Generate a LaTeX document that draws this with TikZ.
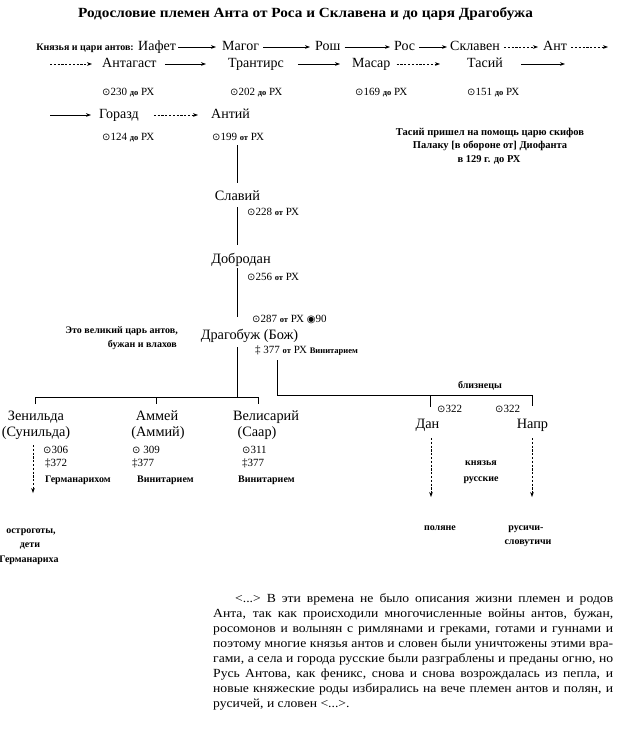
\documentclass[tikz,border=0pt]{standalone}
\usepackage{fontspec}
\setmainfont{Liberation Serif}
\newfontfamily\symfnt{DejaVu Sans}
\newfontfamily\titlefnt{Liberation Serif}[FakeStretch=1.09]
\newfontfamily\parafnt{Liberation Serif}[FakeStretch=1.1]
\usetikzlibrary{arrows.meta}
\newcommand\bsym{{\symfnt\fontsize{10}{10}\selectfont ⊙}}
\newcommand\fsym{{\symfnt\fontsize{10}{10}\selectfont ◉}}
\newcommand\tsm[1]{{\fontsize{8.5}{9}\selectfont\bfseries #1}}
\begin{document}
\begin{tikzpicture}[x=1pt,y=-1pt,
  every node/.style={inner sep=0pt},
  nm/.style={font=\fontsize{14}{16}\selectfont, text height=6pt, text depth=0pt, anchor=base west},
  tn/.style={font=\fontsize{14.3}{16}\selectfont, anchor=base},
  sm/.style={font=\fontsize{10}{11}\selectfont\bfseries, anchor=base},
  nt/.style={font=\fontsize{10.5}{12}\selectfont\bfseries, anchor=base},
  dt/.style={font=\fontsize{11}{13}\selectfont, anchor=base west},
  arr/.style={-{Stealth[length=5pt,width=3.6pt]}, line width=0.6pt},
  darr/.style={arr, dash pattern=on 2.2pt off 1.6pt},
  ln/.style={line width=0.6pt}]
\useasboundingbox (0,0) rectangle (621,748);

% title
\node[font=\fontsize{14}{16}\titlefnt\bfseries, anchor=base] (title) at (305.5,17)
  {Родословие племен Анта от Роса и Склавена и до царя Драгобужа};

% row 1
\node[sm, anchor=base east] (lead) at (134,50) {Князья и цари антов:};
\node[nm] (iafet) at (138,50) {Иафет};
\node[nm] (magog) at (222,50) {Магог};
\node[nm] (rosh) at (315,50) {Рош};
\node[nm] (ros) at (394,50) {Рос};
\node[nm] (sklaven) at (450,50) {Склавен};
\node[nm] (ant) at (543,50) {Ант};
\coordinate (e1) at (608,47);
\draw[arr, shorten <=2pt, shorten >=6pt] (iafet) -- (magog);
\draw[arr, shorten <=4pt, shorten >=5pt] (magog) -- (rosh);
\draw[arr, shorten <=4pt, shorten >=4pt] (rosh) -- (ros);
\draw[arr, shorten <=4pt, shorten >=3pt] (ros) -- (sklaven);
\draw[darr, shorten <=4pt, shorten >=5pt] (sklaven) -- (ant);
\draw[darr, shorten <=4pt] (ant) -- (e1);

% row 2
\coordinate (s2) at (50,64);
\node[nm] (antagast) at (102,67) {Антагаст};
\node[nm] (trantirs) at (228,67) {Трантирс};
\node[nm] (masar) at (352,67) {Масар};
\node[nm] (tasiy) at (467,67) {Тасий};
\coordinate (e2) at (565,64);
\draw[darr, shorten >=10pt] (s2) -- (antagast);
\draw[arr, shorten <=8pt, shorten >=22pt] (antagast) -- (trantirs);
\draw[arr, shorten <=14pt, shorten >=12pt] (trantirs) -- (masar);
\draw[darr, shorten <=6pt, shorten >=27pt] (masar) -- (tasiy);
\draw[arr, shorten <=18pt] (tasiy) -- (e2);

% row 3 dates
\node[dt] (d230) at (102,95) {\bsym230 \tsm{до} РХ};
\node[dt] (d202) at (230,95) {\bsym202 \tsm{до} РХ};
\node[dt] (d169) at (355,95) {\bsym169 \tsm{до} РХ};
\node[dt] (d151) at (467,95) {\bsym151 \tsm{до} РХ};

% row 4
\coordinate (s4) at (50,115);
\node[nm] (gorazd) at (99,118) {Горазд};
\node[nm] (antiy) at (211,118) {Антий};
\draw[arr, shorten >=8pt] (s4) -- (gorazd);
\draw[darr, shorten <=15pt, shorten >=13pt] (gorazd) -- (antiy);
\node[dt] (d124) at (102,140) {\bsym124 \tsm{до} РХ};
\node[dt] (d199) at (212,140) {\bsym199 \tsm{от} РХ};

% note
\node[nt] (note1) at (490,135) {Тасий пришел на помощь царю скифов};
\node[nt] (note2) at (490,148) {Палаку [в обороне от] Диофанта};
\node[nt] (note3) at (489,162) {в 129 г. до РХ};

% spine
\coordinate (t1) at (237,145); \coordinate (t2) at (237,183);
\coordinate (t3) at (237,207); \coordinate (t4) at (237,245);
\coordinate (t5) at (237,268); \coordinate (t6) at (237,317);
\coordinate (t7) at (237,347); \coordinate (t8) at (237,397);
\draw[ln] (t1) -- (t2);
\draw[ln] (t3) -- (t4);
\draw[ln] (t5) -- (t6);
\draw[ln] (t7) -- (t8);

\node[tn] (slaviy) at (237.5,200) {Славий};
\node[dt] (d228) at (247,215) {\bsym228 \tsm{от} РХ};
\node[tn] (dobrodan) at (241,263) {Добродан};
\node[dt] (d256) at (247,280) {\bsym256 \tsm{от} РХ};
\node[dt] (d287) at (252,322) {\bsym287 \tsm{от} РХ \fsym90};
\node[tn] (dragobuzh) at (249.5,339) {Драгобуж (Бож)};
\node[dt] (d377) at (255,353) {‡ 377 \tsm{от} РХ \tsm{Винитарием}};
\node[sm, anchor=base east] (great1) at (178,333) {Это великий царь антов,};
\node[sm, anchor=base east] (great2) at (177,347) {бужан и влахов};

% left bar
\coordinate (b1) at (35,404); \coordinate (b1t) at (35,397);
\coordinate (b2) at (156,404); \coordinate (b2t) at (156,397);
\coordinate (b3) at (258,404); \coordinate (b3t) at (258,397);
\draw[ln] (b1) -- (b1t) -- (b3t) -- (b3);
\draw[ln] (b2t) -- (b2);

% right bar
\coordinate (r0) at (277,360); \coordinate (r0b) at (277,395);
\coordinate (r1t) at (430,395); \coordinate (r1) at (430,407);
\coordinate (r2t) at (532,395); \coordinate (r2) at (532,406);
\draw[ln] (r0) -- (r0b) -- (r2t) -- (r2);
\draw[ln] (r1t) -- (r1);

% children
\node[tn] (zen1) at (36,420) {Зенильда};
\node[tn] (zen2) at (36,436) {(Сунильда)};
\node[dt] (zb) at (43,453) {\bsym306};
\node[dt] (zd) at (45,466) {‡372};
\node[sm, anchor=base west] (zk) at (45,482) {Германарихом};
\node[tn] (amm1) at (157,420) {Аммей};
\node[tn] (amm2) at (158,436) {(Аммий)};
\node[dt] (ab) at (132,453) {\bsym\ 309};
\node[dt] (ad) at (132,466) {‡377};
\node[sm, anchor=base west] (ak) at (137,482) {Винитарием};
\node[tn] (vel1) at (266,420) {Велисарий};
\node[tn] (vel2) at (257,436) {(Саар)};
\node[dt] (vb) at (242,453) {\bsym311};
\node[dt] (vd) at (242,466) {‡377};
\node[sm, anchor=base west] (vk) at (238,482) {Винитарием};

\coordinate (za) at (33,445); \coordinate (zb2) at (33,493);
\draw[darr] (za) -- (zb2);
\node[sm] (ostro1) at (31,533) {остроготы,};
\node[sm] (ostro2) at (30,547) {дети};
\node[sm] (ostro3) at (29,562) {Германариха};

% twins
\node[sm] (bliz) at (480,388) {близнецы};
\node[dt] (danb) at (437,412) {\bsym322};
\node[dt] (naprb) at (495,412) {\bsym322};
\node[tn] (dan) at (427.5,428) {Дан};
\node[tn] (napr) at (532.5,428) {Напр};
\node[sm] (kn1) at (481,465) {князья};
\node[sm] (kn2) at (481,481) {русские};
\coordinate (da) at (431,438); \coordinate (db) at (431,497);
\coordinate (na) at (532,438); \coordinate (nb) at (532,497);
\draw[darr] (da) -- (db);
\draw[darr] (na) -- (nb);
\node[sm] (polyane) at (440,530) {поляне};
\node[sm] (rus1) at (526,530) {русичи-};
\node[sm] (rus2) at (528,544) {словутичи};

% paragraph
\node[anchor=base west, font=\fontsize{12.4}{15}\parafnt] (para) at (213,602)
 {\parbox[t]{400pt}{\setlength{\parindent}{22pt}\indent <...> В эти времена не было описания жизни племен и родов\linebreak
 Анта, так как происходили многочисленные войны антов, бужан,\linebreak
 росомонов и волынян с римлянами и греками, готами и гуннами и\linebreak
 поэтому многие князья антов и словен были уничтожены этими вра-\linebreak
 гами, а села и города русские были разграблены и преданы огню, но\linebreak
 Русь Антова, как феникс, снова и снова возрождалась из пепла, и\linebreak
 новые княжеские роды избирались на вече племен антов и полян, и\linebreak
 русичей, и словен <...>.}};
\end{tikzpicture}
\end{document}
